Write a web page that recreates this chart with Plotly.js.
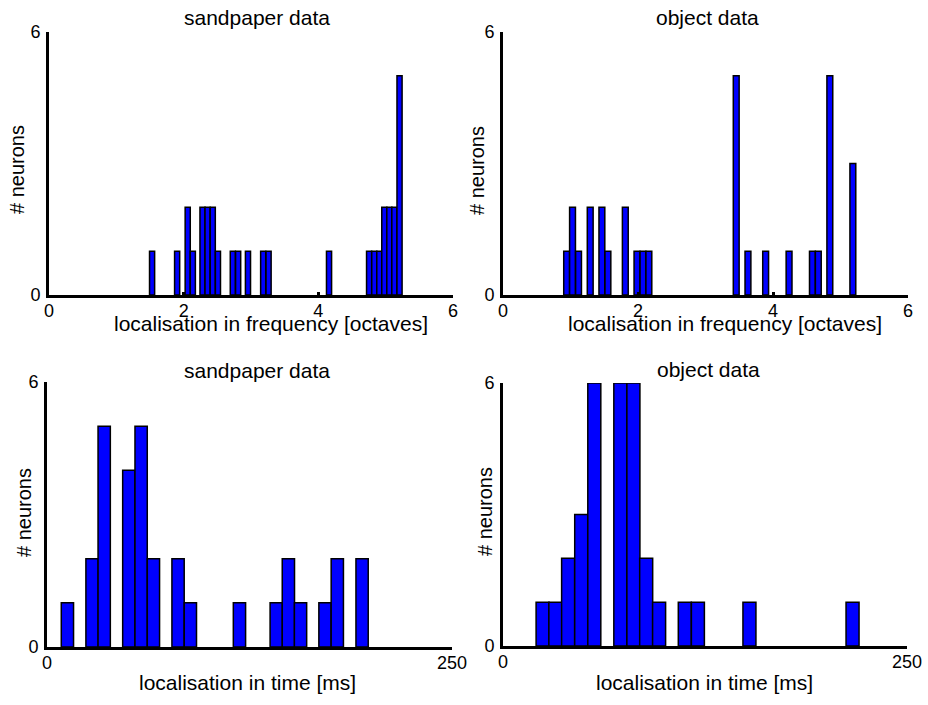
<!DOCTYPE html>
<html>
<head>
<meta charset="utf-8">
<script src="https://cdn.plot.ly/plotly-3.0.1.min.js"></script>
<style>html,body{margin:0;padding:0;background:#fff;}#chart{width:928px;height:705px;}</style>
</head>
<body>
<div id="chart"></div>
<script>
// Top-left: sandpaper data, localisation in frequency [octaves]
const sandFreqX = [1.531, 1.903, 2.060, 2.136, 2.280, 2.355, 2.432, 2.509, 2.730, 2.809, 2.955, 3.181, 3.261, 4.159, 4.754, 4.831, 4.906, 4.980, 5.055, 5.129, 5.206];
const sandFreqN = [1, 1, 2, 1, 2, 2, 2, 1, 1, 1, 1, 1, 1, 1, 1, 1, 1, 2, 2, 2, 5];

// Top-right: object data, localisation in frequency [octaves]
const objFreqX = [0.943, 1.030, 1.119, 1.292, 1.465, 1.554, 1.812, 1.985, 2.074, 2.161, 3.455, 3.629, 3.891, 4.238, 4.584, 4.671, 4.842, 5.183];
const objFreqN = [1, 2, 1, 2, 2, 1, 2, 1, 1, 1, 5, 1, 1, 1, 1, 1, 5, 3];

// Bottom-left: sandpaper data, localisation in time [ms]
const sandTimeX = [12.6, 27.8, 35.3, 50.5, 58.1, 65.7, 80.9, 88.5, 118.8, 141.5, 149.0, 156.5, 171.6, 179.2, 194.5];
const sandTimeN = [1, 2, 5, 4, 5, 2, 2, 1, 1, 1, 2, 1, 1, 2, 2];

// Bottom-right: object data, localisation in time [ms]
const objTimeX = [24.5, 32.4, 40.3, 48.4, 56.5, 72.6, 80.7, 88.6, 96.6, 112.5, 120.6, 152.5, 216.3];
const objTimeN = [1, 1, 2, 3, 6, 6, 6, 2, 1, 1, 1, 1, 1];

const panelTitles = ["sandpaper data", "object data", "sandpaper data", "object data"];
const xTitles = ["localisation in frequency [octaves]", "localisation in frequency [octaves]", "localisation in time [ms]", "localisation in time [ms]"];
const yTitle = "# neurons";
const freqTicks = [0, 2, 4, 6];
const timeTicks = [0, 250];
const countTicks = [0, 6];

const W = 928, H = 705;
const px = v => v / W;
const py = v => 1 - v / H;

const barStyle = {color: '#0000ff', line: {color: '#000000', width: 1.5}};
function bars(x, y, w, xa, ya) {
  return {type: 'bar', x: x, y: y, width: w, xaxis: xa, yaxis: ya, marker: barStyle, hoverinfo: 'x+y', showlegend: false};
}

const data = [
  bars(sandFreqX, sandFreqN, 0.0759, 'x', 'y'),
  bars(objFreqX, objFreqN, 0.0866, 'x2', 'y2'),
  bars(sandTimeX, sandTimeN, 7.58, 'x3', 'y3'),
  bars(objTimeX, objTimeN, 8.05, 'x4', 'y4')
];

const FAM = 'Liberation Sans, Arial, sans-serif';
const tickFont = {family: FAM, size: 18, color: '#000'};
const textFont = {family: FAM, size: 21, color: '#000'};
const yTitleFont = {family: FAM, size: 20, color: '#000'};

function xax(domain, range, ticks) {
  return {domain: domain, range: range, tickmode: 'array', tickvals: ticks, ticktext: ticks.map(String),
    showline: true, linecolor: '#000', linewidth: 3, ticks: 'inside', ticklen: 3, tickwidth: 3, tickcolor: '#000',
    showgrid: false, zeroline: false, tickfont: tickFont, fixedrange: true, ticklabelstandoff: -3};
}
function yax(domain, ticks) {
  return {domain: domain, range: [0, 6], tickmode: 'array', tickvals: ticks, ticktext: ticks.map(String),
    showline: true, linecolor: '#000', linewidth: 3, ticks: 'inside', ticklen: 3, tickwidth: 3, tickcolor: '#000',
    showgrid: false, zeroline: false, tickfont: tickFont, fixedrange: true, ticklabelstandoff: 2};
}

const annPos = [
  {t: [257, 17], xt: [271, 323], yt: [17, 170]},
  {t: [707, 17], xt: [725, 323], yt: [477, 170]},
  {t: [257, 370], xt: [247, 682], yt: [24, 513]},
  {t: [708, 369], xt: [704, 682], yt: [485, 512]}
];
const annotations = [];
annPos.forEach((p, i) => {
  annotations.push({text: panelTitles[i], xref: 'paper', yref: 'paper', x: px(p.t[0]), y: py(p.t[1]), showarrow: false, font: textFont, xanchor: 'center', yanchor: 'middle'});
  annotations.push({text: xTitles[i], xref: 'paper', yref: 'paper', x: px(p.xt[0]), y: py(p.xt[1]), showarrow: false, font: textFont, xanchor: 'center', yanchor: 'middle'});
  annotations.push({text: yTitle, xref: 'paper', yref: 'paper', x: px(p.yt[0]), y: py(p.yt[1]), showarrow: false, textangle: -90, font: yTitleFont, xanchor: 'center', yanchor: 'middle'});
});

const layout = {
  width: W, height: H,
  margin: {l: 0, r: 0, t: 0, b: 0},
  paper_bgcolor: '#fff', plot_bgcolor: '#fff',
  barmode: 'overlay',
  font: textFont,
  xaxis: Object.assign(xax([px(49), px(453)], [0, 6], freqTicks), {anchor: 'y'}),
  yaxis: Object.assign(yax([py(295), py(32)], countTicks), {anchor: 'x'}),
  xaxis2: Object.assign(xax([px(503), px(908)], [0, 6], freqTicks), {anchor: 'y2'}),
  yaxis2: Object.assign(yax([py(295), py(32)], countTicks), {anchor: 'x2'}),
  xaxis3: Object.assign(xax([px(47), px(452)], [0, 250], timeTicks), {anchor: 'y3'}),
  yaxis3: Object.assign(yax([py(647), py(382)], countTicks), {anchor: 'x3'}),
  xaxis4: Object.assign(xax([px(503), px(907)], [0, 250], timeTicks), {anchor: 'y4'}),
  yaxis4: Object.assign(yax([py(646), py(383)], countTicks), {anchor: 'x4'}),
  annotations: annotations
};

Plotly.newPlot('chart', data, layout, {staticPlot: true, displayModeBar: false});
</script>
</body>
</html>
